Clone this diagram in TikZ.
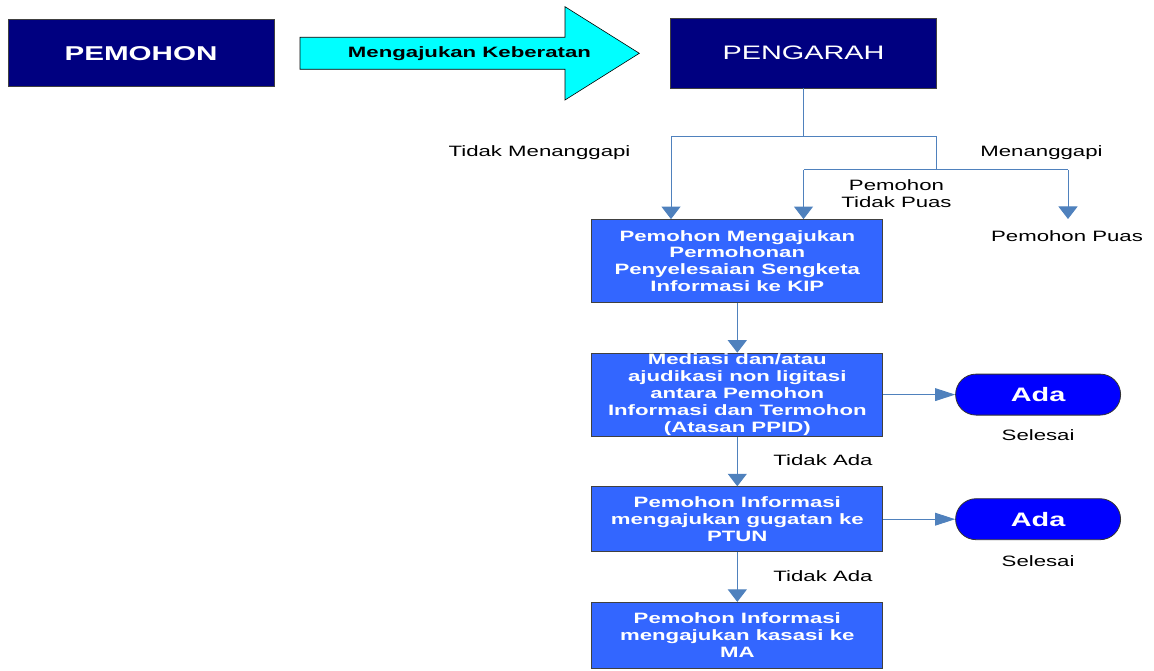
\documentclass[tikz,border=0pt]{standalone}
\usepackage{fontspec}
\setmainfont{Liberation Sans}[FakeStretch=1.48]
\usetikzlibrary{arrows.meta,positioning}
\definecolor{navybox}{RGB}{0,0,128}
\definecolor{stepblue}{RGB}{51,102,255}
\definecolor{adablue}{RGB}{0,0,255}
\definecolor{linkblue}{RGB}{79,129,189}
\definecolor{cyanarrow}{RGB}{0,255,255}

\begin{document}
\begin{tikzpicture}[
x=1pt, y=-1pt,
node distance=49.8pt,
headbox/.style={draw=black!75, line width=0.8pt, fill=navybox, text=white, minimum width=266pt, minimum height=67pt, inner sep=0pt},
stepbox/.style={draw=black!75, line width=0.8pt, fill=stepblue, text=white, font=\bfseries\fontsize{15}{16.8}\selectfont, align=center, minimum width=291pt, inner sep=0pt},
adabox/.style={draw=black!80, line width=0.8pt, fill=adablue, text=white, font=\bfseries\fontsize{19.5}{22}\selectfont, rounded corners=20.5pt, minimum width=165pt, minimum height=41pt, inner sep=0pt},
note/.style={font=\fontsize{15}{16.8}\selectfont, align=center, inner sep=0pt, anchor=base},
link/.style={draw=linkblue, line width=1pt},
downarrow/.style={link, -{Triangle[length=12.5pt,width=19pt]}},
sidearrow/.style={link, -{Triangle[length=20pt,width=12.7pt]}}
]
\useasboundingbox (0,0) rectangle (1154,671);

% top row
\node[headbox, font=\bfseries\fontsize{20}{24}\selectfont] (pemohon) at (141,53.3) {PEMOHON};
\node[headbox, font=\fontsize{19.5}{24}\selectfont, minimum height=70pt] (pengarah) at (803.5,53) {PENGARAH};
\filldraw[fill=cyanarrow, draw=black, line width=0.6pt] (300,37.3) -- (565,37.3) -- (565,6.7) -- (639.3,53.3) -- (565,100) -- (565,69.3) -- (300,69.3) -- cycle;
\node[font=\bfseries\fontsize{15}{18}\selectfont, inner sep=0pt, anchor=base] (ajuan) at (469.5,57.3) {Mengajukan Keberatan};

% steps
\node[stepbox, minimum height=83pt] (kip) at (737.3,261) {Pemohon Mengajukan\\Permohonan\\Penyelesaian Sengketa\\Informasi ke KIP};
\node[stepbox, minimum height=83pt, below=of kip] (mediasi) {Mediasi dan/atau\\ajudikasi non ligitasi\\antara Pemohon\\Informasi dan Termohon\\(Atasan PPID)};
\node[stepbox, minimum height=65pt, below=of mediasi] (ptun) {Pemohon Informasi\\mengajukan gugatan ke\\PTUN};
\node[stepbox, minimum height=66pt, below=of ptun] (kasasi) {Pemohon Informasi\\mengajukan kasasi ke\\MA};

\node[adabox, right=72pt of mediasi] (ada1) {Ada};
\node[adabox, right=72pt of ptun] (ada2) {Ada};
\node[note] (selesai1) at ([yshift=-25pt]ada1.south) {Selesai};
\node[note] (selesai2) at ([yshift=-26.5pt]ada2.south) {Selesai};

% labels
\node[note] (tidak) at (539.5,157) {Tidak Menanggapi};
\node[note] (tanggapi) at (1041.5,157) {Menanggapi};
\node[note, anchor=center] (tidakpuas) at (896.5,193.5) {Pemohon\\Tidak Puas};
\node[note] (puaslabel) at (1067,241.7) {Pemohon Puas};
\node[note] (tidakada1) at (823,465.7) {Tidak Ada};
\node[note] (tidakada2) at (823,581.7) {Tidak Ada};

% branch points
\coordinate (kiri) at (671,137);
\coordinate (kanan) at (936,137);
\coordinate (bagi) at (pengarah.south |- kiri);
\coordinate (tanggap) at (936,170);
\coordinate (tpuas) at (pengarah.south |- tanggap);
\coordinate (puas) at (1068,170);
\coordinate (puasend) at (1068,219);

\draw[link] (pengarah.south) -- (bagi);
\draw[link] (kiri) -- (kanan) -- (tanggap);
\draw[link] (tpuas) -- (puas);
\draw[downarrow] (kiri) -- (kiri |- kip.north);
\draw[downarrow] (tpuas) -- (tpuas |- kip.north);
\draw[downarrow] (puas) -- (puasend);
\draw[downarrow] (kip) -- (mediasi);
\draw[downarrow] (mediasi) -- (ptun);
\draw[downarrow] (ptun) -- (kasasi);
\draw[sidearrow] (mediasi) -- (ada1);
\draw[sidearrow] (ptun) -- (ada2);

\end{tikzpicture}
\end{document}
